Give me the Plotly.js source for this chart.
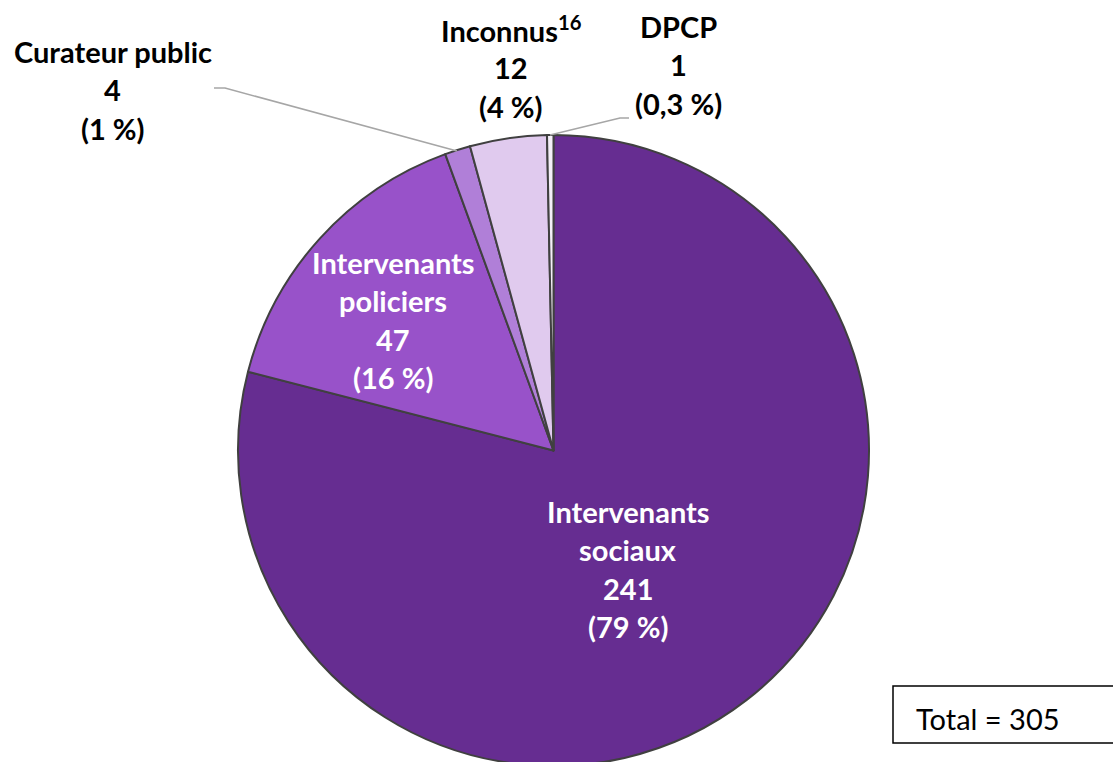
<!DOCTYPE html>
<html>
<head>
<meta charset="utf-8">
<script src="https://cdn.plot.ly/plotly-3.0.1.min.js"></script>
<style>
html,body{margin:0;padding:0;overflow:hidden;background:#fff;}
#chart{width:1113px;height:772px;}
</style>
</head>
<body>
<div id="chart"></div>
<script>
// ---- Data ----
var categories = ['Intervenants sociaux', 'Intervenants policiers', 'Curateur public', 'Inconnus', 'DPCP'];
var values = [241, 47, 4, 12, 1];
var percentLabels = ['(79 %)', '(16 %)', '(1 %)', '(4 %)', '(0,3 %)'];
var nameLines = [
  ['Intervenants', 'sociaux'],
  ['Intervenants', 'policiers'],
  ['Curateur public'],
  ['Inconnus<sup>16</sup>'],
  ['DPCP']
];
var totalLabel = 'Total = ' + values.reduce(function(a, b){ return a + b; }, 0);

// ---- Styles / layout ----
var sliceColors = ['#662D91', '#9852C9', '#B07FD8', '#E0CAEE', '#F4EFF8'];
var textColors = ['#FFFFFF', '#FFFFFF', '#000000', '#000000', '#000000'];
var W = 1113, H = 772;
function px(x){ return x / W; }
function py(y){ return 1 - y / H; }

var cx = 553.5, cy = 450.5, r = 315.5;

// label anchor: center x and first baseline (pixels), line step
var labelPos = [
  {x: 628, y: 521},
  {x: 393, y: 272},
  {x: 113, y: 61},
  {x: 511, y: 39},
  {x: 678, y: 36}
];
var lineStep = 38.5;
var fontSize = 29;
var fontFamily = 'Lato, "Open Sans", sans-serif';

var annotations = [];
categories.forEach(function(c, i){
  var lines = nameLines[i].concat([String(values[i]), percentLabels[i]]);
  lines.forEach(function(t, k){
    var base = labelPos[i].y + k * lineStep;
    annotations.push({
      xref: 'paper', yref: 'paper',
      x: px(labelPos[i].x), y: py(base - 10),
      xanchor: 'center', yanchor: 'middle',
      text: '<b>' + t + '</b>',
      showarrow: false,
      font: {family: fontFamily, size: fontSize, color: textColors[i]}
    });
  });
});
annotations.push({
  xref: 'paper', yref: 'paper',
  x: px(914), y: py(718),
  xanchor: 'left', yanchor: 'middle',
  text: totalLabel, showarrow: false,
  font: {family: fontFamily, size: fontSize, color: '#000000'}
});

var leaderColor = '#A6A6A6';
var shapes = [
  {type: 'path', xref: 'paper', yref: 'paper',
   path: 'M ' + px(214) + ',' + py(88) + ' L ' + px(225) + ',' + py(88) + ' L ' + px(457) + ',' + py(151),
   line: {color: leaderColor, width: 1.5}},
  {type: 'path', xref: 'paper', yref: 'paper',
   path: 'M ' + px(629) + ',' + py(118) + ' L ' + px(620) + ',' + py(118) + ' L ' + px(550) + ',' + py(135),
   line: {color: leaderColor, width: 1.5}},
  {type: 'rect', xref: 'paper', yref: 'paper',
   x0: px(893), x1: px(1125), y0: py(743), y1: py(686),
   line: {color: '#000000', width: 1.5}, fillcolor: 'rgba(0,0,0,0)'}
];

var trace = {
  type: 'pie',
  labels: categories,
  values: values,
  sort: false,
  direction: 'clockwise',
  rotation: 0,
  textinfo: 'none',
  hoverinfo: 'label+value',
  marker: {colors: sliceColors, line: {color: '#404040', width: 2}},
  domain: {x: [px(cx - r), px(cx + r)], y: [py(cy + r), py(cy - r)]}
};

var layout = {
  width: W, height: H,
  margin: {l: 0, r: 0, t: 0, b: 0},
  showlegend: false,
  paper_bgcolor: '#FFFFFF',
  annotations: annotations,
  shapes: shapes
};

Plotly.newPlot('chart', [trace], layout, {displayModeBar: false, staticPlot: true});
</script>
</body>
</html>
